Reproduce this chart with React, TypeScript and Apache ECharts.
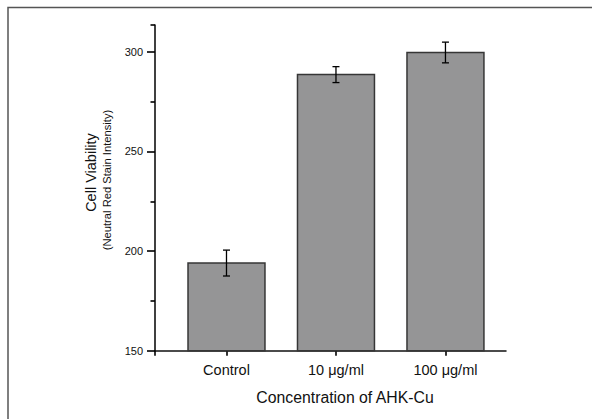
import React, { useEffect, useRef } from "react";
import * as echarts from "echarts";

const categories = ["Control", "10 μg/ml", "100 μg/ml"];
const positions = [0, 1, 2];
const means = [194, 288.6, 299.7];
const errors = [6.5, 4, 5.2];
const yMajorTicks = [150, 200, 250, 300];
const yMinorTicks = [175, 225, 275];
const yMin = 150;
const yMax = 313.5;
const xMin = -0.653;
const xMax = 2.553;

const FONT = "'Liberation Sans', Arial, Helvetica, sans-serif";

export default function App() {
  const ref = useRef<HTMLDivElement>(null);
  useEffect(() => {
    if (!ref.current) return;
    const chart = echarts.init(ref.current, undefined, { renderer: "svg" });
    const data = positions.map((p, i) => [p, means[i], errors[i]]);
    chart.setOption({
      animation: false,
      backgroundColor: "#fff",
      grid: {
        left: 155,
        top: 25,
        right: 86,
        bottom: 68.3,
        containLabel: false,
        outerBoundsMode: "none",
      },
      xAxis: {
        type: "value",
        min: xMin,
        max: xMax,
        splitLine: { show: false },
        axisLine: { show: true, onZero: false, lineStyle: { color: "#111", width: 1.5 } },
        axisTick: {
          show: true,
          length: 5,
          customValues: [xMin, ...positions],
          lineStyle: { color: "#000", width: 1.6 },
        },
        axisLabel: {
          show: true,
          customValues: positions,
          formatter: (v: number) => categories[Math.round(v)] ?? "",
          fontFamily: FONT,
          fontSize: 14.5,
          color: "#111",
          margin: 12,
        },
      },
      yAxis: [
        {
          type: "value",
          min: yMin,
          max: yMax,
          splitLine: { show: false },
          axisLine: { show: true, onZero: false, lineStyle: { color: "#000", width: 1.5 } },
          axisTick: {
            show: true,
            length: 8,
            customValues: yMajorTicks,
            lineStyle: { color: "#000", width: 1.6 },
          },
          axisLabel: {
            show: true,
            customValues: yMajorTicks,
            fontFamily: FONT,
            fontSize: 11,
            color: "#111",
            margin: 12,
          },
        },
        {
          type: "value",
          min: yMin,
          max: yMax,
          position: "left",
          offset: 0,
          splitLine: { show: false },
          axisLine: { show: false, onZero: false },
          axisTick: {
            show: true,
            length: 4.5,
            customValues: [...yMinorTicks, yMax],
            lineStyle: { color: "#000", width: 1.6 },
          },
          axisLabel: { show: false },
        },
      ],
      series: [
        {
          type: "custom",
          xAxisIndex: 0,
          yAxisIndex: 0,
          encode: { x: 0, y: 1 },
          data,
          renderItem: (params: any, api: any) => {
            const x = api.value(0);
            const v = api.value(1);
            const e = api.value(2);
            const base = api.coord([x, yMin]);
            const top = api.coord([x, v]);
            const hi = api.coord([x, v + e]);
            const lo = api.coord([x, v - e]);
            const w = api.size([0.703, 0])[0];
            const cap = 3.5;
            return {
              type: "group",
              children: [
                {
                  type: "rect",
                  shape: { x: top[0] - w / 2, y: top[1], width: w, height: base[1] - top[1] },
                  style: { fill: "#959596", stroke: "#363636", lineWidth: 1.5 },
                },
                {
                  type: "line",
                  shape: { x1: hi[0], y1: hi[1], x2: lo[0], y2: lo[1] },
                  style: { stroke: "#000", lineWidth: 1.3 },
                },
                {
                  type: "line",
                  shape: { x1: hi[0] - cap, y1: hi[1], x2: hi[0] + cap, y2: hi[1] },
                  style: { stroke: "#000", lineWidth: 1.3 },
                },
                {
                  type: "line",
                  shape: { x1: lo[0] - cap, y1: lo[1], x2: lo[0] + cap, y2: lo[1] },
                  style: { stroke: "#000", lineWidth: 1.3 },
                },
              ],
            };
          },
        },
      ],
      graphic: [
        {
          type: "rect",
          shape: { x: 8, y: 7.5, width: 700, height: 600 },
          style: { fill: "none", stroke: "#555", lineWidth: 1.5 },
          silent: true,
        },
        {
          type: "text",
          x: 90.5,
          y: 172.5,
          rotation: Math.PI / 2,
          style: {
            text: "Cell Viability",
            fontFamily: FONT,
            fontSize: 14.5,
            fill: "#111",
            textAlign: "center",
            textVerticalAlign: "middle",
          },
        },
        {
          type: "text",
          x: 107,
          y: 180,
          rotation: Math.PI / 2,
          style: {
            text: "(Neutral Red Stain Intensity)",
            fontFamily: FONT,
            fontSize: 11.2,
            fill: "#111",
            textAlign: "center",
            textVerticalAlign: "middle",
          },
        },
        {
          type: "text",
          x: 345,
          y: 397.7,
          style: {
            text: "Concentration of AHK-Cu",
            fontFamily: FONT,
            fontSize: 15.8,
            fill: "#111",
            textAlign: "center",
            textVerticalAlign: "middle",
          },
        },
      ],
    });
    return () => chart.dispose();
  }, []);
  return (
    <div
      ref={ref}
      style={{ position: "absolute", left: 0, top: 0, width: 592, height: 419 }}
    />
  );
}
